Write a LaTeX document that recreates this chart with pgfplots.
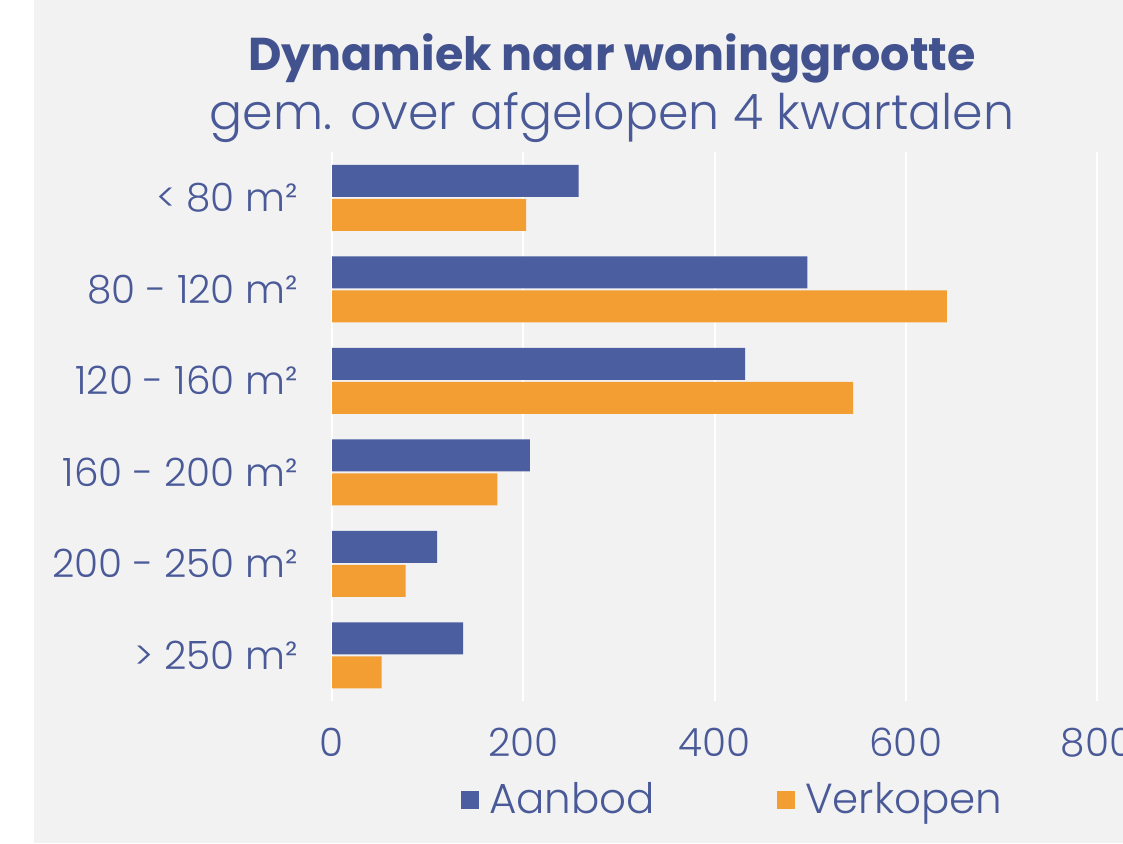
\documentclass[border=0pt]{standalone}
\usepackage{fontspec}
\setmainfont{Poppins}
\newfontfamily\plight{Poppins Light}
\usepackage{pgfplots}
\pgfplotsset{compat=1.18}
\definecolor{bg}{HTML}{F2F2F2}
\definecolor{aanbod}{HTML}{4A5EA0}
\definecolor{verkopen}{HTML}{F29E33}
\definecolor{txt}{HTML}{4A5A98}
\definecolor{ttl}{HTML}{42528F}
\begin{document}
\begin{tikzpicture}
\clip (0,0) rectangle (561.5pt,-421.5pt);
\fill[bg] (0,0) rectangle (561.5pt,-421.5pt);
\fill[white] (0,0) rectangle (17pt,-421.5pt);
\node[font=\bfseries\fontsize{23}{26}\selectfont, text=ttl] at (306pt,-29pt) {Dynamiek naar woninggrootte};
\node[font=\plight\fontsize{24.5}{28}\selectfont, text=txt] at (306pt,-59pt) {gem. over afgelopen 4 kwartalen};
\begin{axis}[
  at={(166pt,-350.5pt)}, anchor=south west,
  scale only axis, width=382.5pt, height=274.5pt,
  xbar, bar width=16pt,
  xmin=0, xmax=800, ymin=-0.5, ymax=5.5, y dir=reverse,
  xtick={0,200,...,800}, ytick={0,...,5},
  yticklabels={{< 80 m²},{80 - 120 m²},{120 - 160 m²},{160 - 200 m²},{200 - 250 m²},{> 250 m²}},
  axis line style={draw=none}, major tick length=0pt,
  xmajorgrids, grid style={white, line width=1pt},
  ticklabel style={font=\plight\fontsize{19.5}{22}\selectfont, text=txt},
  /pgf/number format/assume math mode=true,
  xticklabel style={yshift=-10pt},
  yticklabel style={xshift=-13.5pt},
  legend style={at={(0.525,-0.18)}, anchor=center, draw=none, fill=none,
    font=\plight\fontsize{21}{23}\selectfont, text=txt, legend columns=2,
    /tikz/every even column/.append style={column sep=59pt}},
  legend image code/.code={\fill[#1] (0pt,-4.5pt) rectangle (9pt,4.5pt); \path (12pt,0pt);},
]
\addplot[fill=aanbod, draw=none, bar shift=8.5pt] coordinates {
  (258,0) (497,1) (432,2) (207,3) (110,4) (137,5)
};
\addplot[fill=verkopen, draw=none, bar shift=-8.5pt] coordinates {
  (203,0) (643,1) (545,2) (173,3) (77,4) (52,5)
};
\legend{Aanbod, Verkopen}
\end{axis}
\end{tikzpicture}
\end{document}
